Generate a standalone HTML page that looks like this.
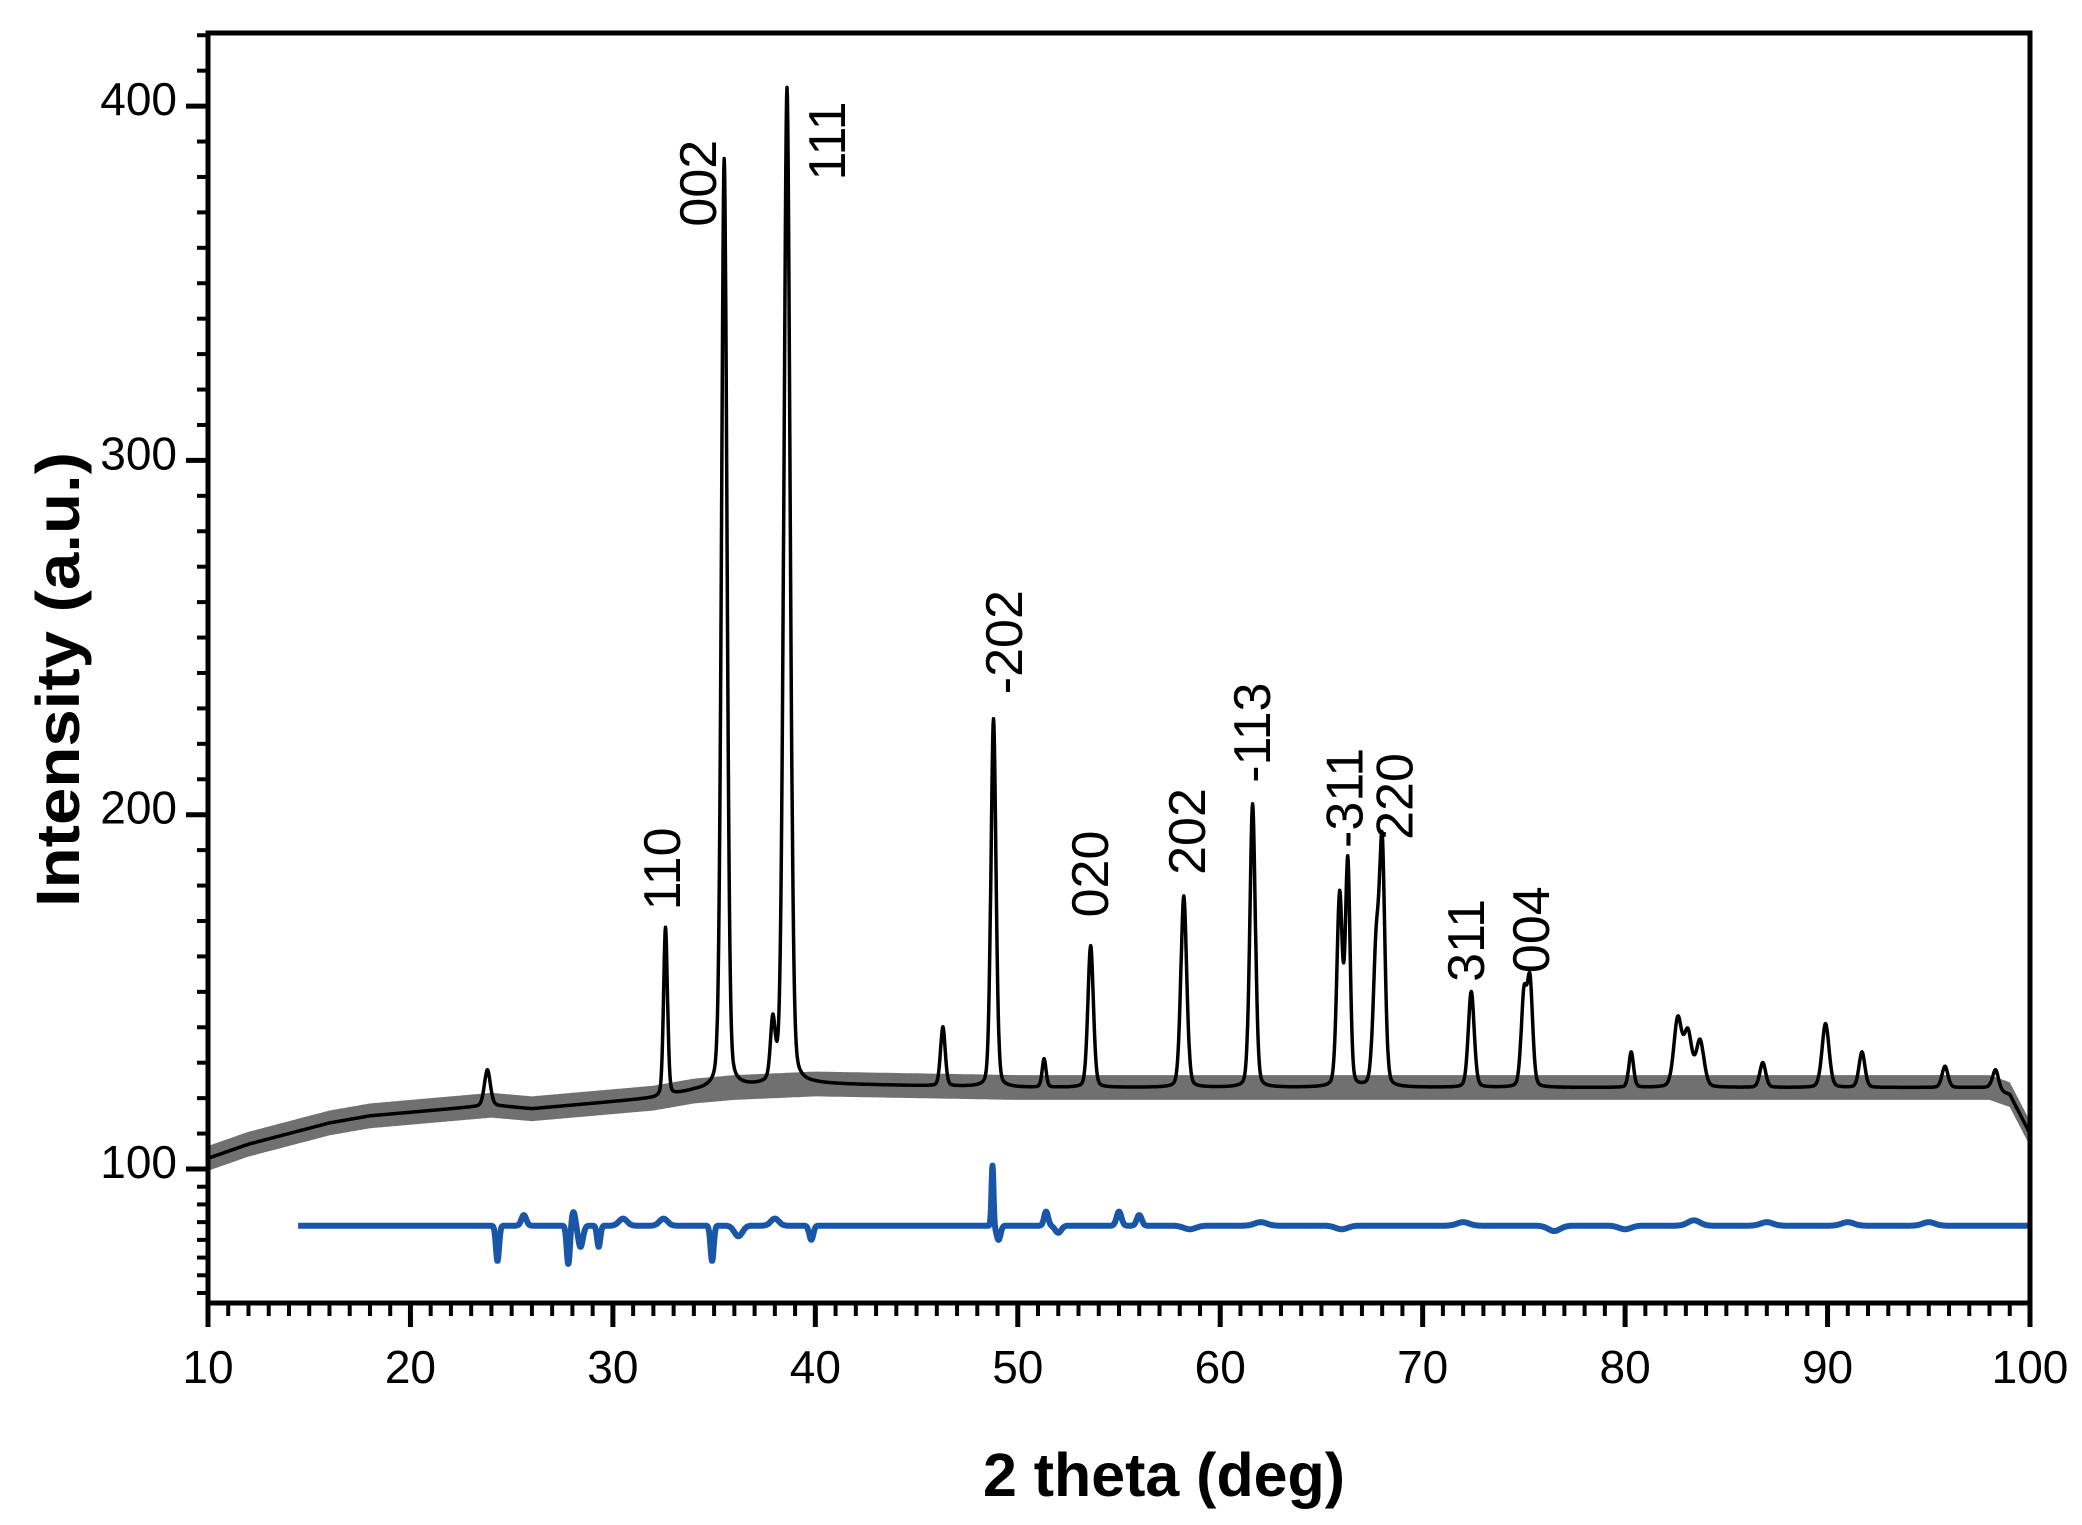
<!DOCTYPE html>
<html><head><meta charset="utf-8"><style>
html,body{margin:0;padding:0;background:#fff;}
svg{display:block;font-family:"Liberation Sans",Arial,sans-serif;}
</style></head><body>
<svg id="chart" width="2082" height="1525" viewBox="0 0 2082 1525" xmlns="http://www.w3.org/2000/svg">
<g id="plot"></g>
<g id="axes"></g>
<g id="labels"></g>
<text x="983" y="1496" font-size="61" font-weight="bold" textLength="362" lengthAdjust="spacingAndGlyphs">2 theta (deg)</text>
<text transform="translate(79,907) rotate(-90)" x="0" y="0" font-size="61" font-weight="bold" textLength="455" lengthAdjust="spacingAndGlyphs">Intensity (a.u.)</text>
</svg>
<script>
// ---- data ----
const bgDeg   = [10,12,14,16,18,20,22,24,26,28,30,32,34,36,40,50,60,70,80,90,98,99,100];
const bgVal   = [103,107,110,113,115,116,117,118,117,118,119,120,122,123,124,123,123,123,123,123,123,121,110];
const bgNoise = [3.5,3.5,3.5,3.5,3.5,3.5,3.5,3.5,3.5,3.5,3.5,3.5,3.5,3.5,3.5,3.5,3.5,3.5,3.5,3.5,3.5,3.5,3.5];
const peakPos = [23.8,32.6,35.5,37.9,38.6,46.3,48.8,51.3,53.6,58.2,61.6,65.9,66.3,67.7,68.0,72.4,75.0,75.3,80.3,82.6,83.1,83.7,86.8,89.9,91.7,95.8,98.3];
const peakTop = [128,168,385,140,405,140,227,131,163,177,203,177,186,160,189,150,148,152,133,142,138,136,130,141,133,129,128];
const peakWid = [0.15,0.1,0.14,0.12,0.16,0.12,0.13,0.1,0.14,0.15,0.14,0.14,0.12,0.15,0.14,0.15,0.14,0.14,0.12,0.2,0.2,0.2,0.15,0.18,0.15,0.15,0.15];
const diffBase = 84;
const diffStart = 14.45;
const diffPos = [24.3,25.6,27.8,28.05,28.4,29.3,30.5,32.5,34.9,36.2,38.0,39.8,48.75,49.05,51.4,52.0,55.0,56.0,58.5,62,66,72,76.5,80,83.4,87,91,95];
const diffAmp = [-10,3,-11,4,-6,-6,2,2,-10,-3,2,-4,17,-4,4,-2,4,3,-1,1,-1,1,-1.5,-1,1.5,1,1,1];
const diffWid = [0.08,0.12,0.08,0.1,0.12,0.08,0.2,0.2,0.08,0.2,0.2,0.1,0.05,0.1,0.1,0.15,0.12,0.12,0.3,0.3,0.3,0.3,0.3,0.3,0.3,0.3,0.3,0.3];
const peakLabels = ["110","002","111","-202","020","202","-113","-311","220","311","004"];
const labelDeg = [32.38,34.16,40.52,49.26,53.52,58.32,61.53,66.08,68.55,72.1,75.3];
const labelBottom = [173,366,379,234,171,183,209,190.6,192.9,152.8,155.3];
const xTicks = [10,20,30,40,50,60,70,80,90,100];
const yTicks = [100,200,300,400];
// ---- scales ----
const X0=208,X1=2030,XMIN=10,XMAX=100;
const YTOP=33,YBOT=1303;
function sx(d){return X0+(d-XMIN)*(X1-X0)/(XMAX-XMIN);}
function sy(v){return 1169-(v-100)*3.543;}
const NS="http://www.w3.org/2000/svg";
function el(tag,attrs,parent){const e=document.createElementNS(NS,tag);for(const k in attrs)e.setAttribute(k,attrs[k]);parent.appendChild(e);return e;}
function interp(xs,ys,x){if(x<=xs[0])return ys[0];for(let i=1;i<xs.length;i++){if(x<=xs[i]){const t=(x-xs[i-1])/(xs[i]-xs[i-1]);return ys[i-1]+t*(ys[i]-ys[i-1]);}}return ys[ys.length-1];}
function intensity(d){const b=interp(bgDeg,bgVal,d);let v=b;for(let i=0;i<peakPos.length;i++){const bb=interp(bgDeg,bgVal,peakPos[i]);const z=(d-peakPos[i])/peakWid[i];v+=(peakTop[i]-bb)*(0.75*Math.exp(-0.5*z*z)+0.25/(1+z*z));}return v;}
function diff(d){let v=diffBase;for(let i=0;i<diffPos.length;i++){const z=(d-diffPos[i])/diffWid[i];v+=diffAmp[i]*Math.exp(-0.5*z*z);}return v;}
const plot=document.getElementById('plot');
let up="",lo="";
for(let d=10;d<=100.0001;d+=0.1){up+=(up?" L":"M")+sx(d).toFixed(1)+","+sy(interp(bgDeg,bgVal,d)+interp(bgDeg,bgNoise,d)).toFixed(1);}
for(let d=100;d>=9.9999;d-=0.1){lo+=" L"+sx(d).toFixed(1)+","+sy(interp(bgDeg,bgVal,d)-interp(bgDeg,bgNoise,d)).toFixed(1);}
const band=el('path',{d:up+lo+" Z",fill:"#111","fill-opacity":"0.6"},plot);


let p="";
for(let d=10;d<=100.0001;d+=0.02){p+=(p?" L":"M")+sx(d).toFixed(1)+","+sy(intensity(d)).toFixed(1);}
const line=el('path',{d:p,fill:"none",stroke:"#000","stroke-width":"3.5","stroke-linejoin":"round"},plot);


let q="";
for(let d=diffStart;d<=100.0001;d+=0.02){q+=(q?" L":"M")+sx(d).toFixed(1)+","+sy(diff(d)).toFixed(1);}
const dl=el('path',{d:q,fill:"none",stroke:"#1a56a8","stroke-width":"6","stroke-linejoin":"round"},plot);


const axes=document.getElementById('axes');
const frame=el('path',{d:`M${X0},${YTOP} H${X1} V${YBOT} H${X0} Z`,fill:"none",stroke:"#000","stroke-width":"5"},axes);


for(let d=10;d<=100;d++){const major=d%10===0;const t=el('line',{x1:sx(d),x2:sx(d),y1:YBOT,y2:YBOT+(major?24:13),stroke:"#000","stroke-width":major?5:4},axes);

}
xTicks.forEach(v=>{const t=el('text',{x:sx(v),y:1383,"font-size":"46","text-anchor":"middle"},axes);t.textContent=v;

});
const minorY=[];for(let v=65;v<100;v+=5)minorY.push(v);for(let v=110;v<=420;v+=10)minorY.push(v);
minorY.forEach(v=>{if(v%100===0)return;const t=el('line',{x1:X0-11,x2:X0,y1:sy(v),y2:sy(v),stroke:"#000","stroke-width":"4"},axes);

});
yTicks.forEach(v=>{const t=el('line',{x1:X0-22,x2:X0,y1:sy(v),y2:sy(v),stroke:"#000","stroke-width":"5"},axes);


const l=el('text',{x:177,y:sy(v)+9,"font-size":"46","text-anchor":"end"},axes);l.textContent=v;

});
const lg=document.getElementById('labels');
peakLabels.forEach((s,i)=>{const x=sx(labelDeg[i])+19,y=sy(labelBottom[i]);
const t=el('text',{transform:`translate(${x.toFixed(1)},${y.toFixed(1)}) rotate(-90)`,"font-size":"52"},lg);t.textContent=s;

});
</script>
</body></html>
